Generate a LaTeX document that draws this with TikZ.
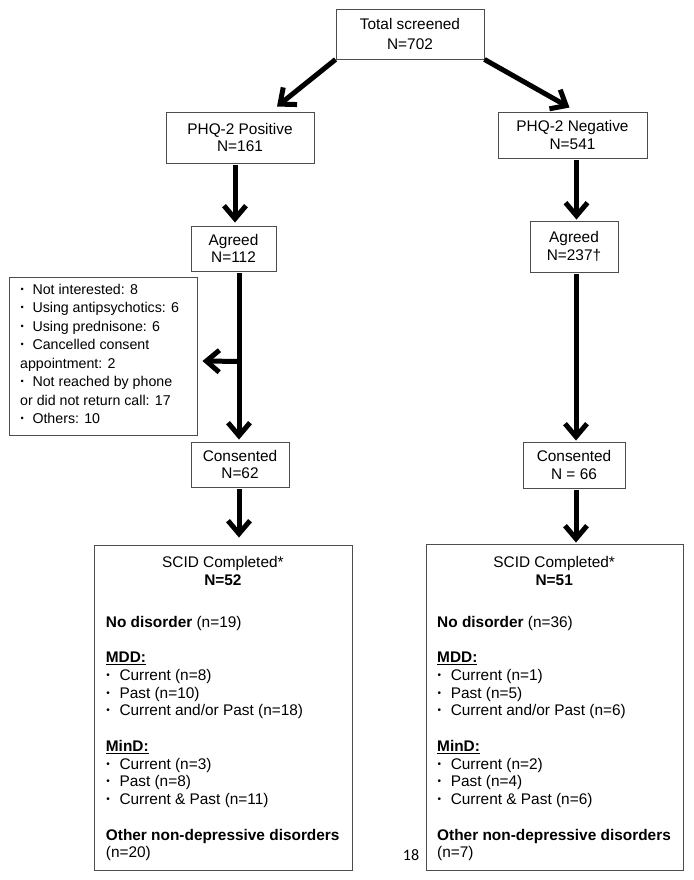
\documentclass[tikz,border=0pt]{standalone}
\usepackage{fontspec}
\usepackage{graphicx}
\setmainfont{Liberation Sans}
\newfontfamily\pagefont{Carlito}
\usetikzlibrary{arrows.meta,calc}
\newcommand{\bl}[1][13.6pt]{\makebox[#1][l]{\hspace{0.5pt}\raisebox{0.12em}{\scalebox{0.65}{•}}}}
\begin{document}
\begin{tikzpicture}[x=1pt,y=-1pt,
  box/.style={draw=black!70, line width=0.9pt, align=center, inner sep=0pt,
    font=\fontsize{15.4}{17.4}\selectfont},
  txt/.style={anchor=north west, inner sep=0pt, align=left,
    font=\fontsize{15.4}{17.75}\selectfont},
  flow/.style={line width=5pt, -{Straight Barb[length=13pt,width=22pt]}},
  plain/.style={line width=5pt}]
\useasboundingbox (0,0) rectangle (693,880);

% boxes
\node[box, minimum width=148pt, minimum height=50pt, font=\fontsize{15.4}{20}\selectfont] (total) at (410,34) {Total screened\\N=702};
\node[box, minimum width=148pt, minimum height=51pt] (pos) at (240,137.5) {PHQ-2 Positive\\N=161};
\node[box, minimum width=149pt, minimum height=46pt] (neg) at (572.5,135) {PHQ-2 Negative\\N=541};
\node[box, minimum width=85pt, minimum height=45pt] (agL) at (233.5,248.5) {Agreed\\N=112};
\node[box, minimum width=88pt, minimum height=51pt] (agR) at (574,246.5) {Agreed\\N=237†};
\node[box, minimum width=188pt, minimum height=158pt] (excl) at (103,356) {};
\node[box, minimum width=98pt, minimum height=45pt] (conL) at (240,464.5) {Consented\\N=62};
\node[box, minimum width=102pt, minimum height=46pt] (conR) at (574,465) {Consented\\N = 66};
\node[box, minimum width=258pt, minimum height=325pt] (scidL) at (223,707.5) {};
\node[box, minimum width=257pt, minimum height=326pt] (scidR) at (554.5,707) {};

% exclusion text
\node[txt, font=\fontsize{14.2}{18.5}\selectfont] (excltext) at (20,283.6) {%
\bl[12.3pt]Not interested: 8\\
\bl[12.3pt]Using antipsychotics: 6\\
\bl[12.3pt]Using prednisone: 6\\
\bl[12.3pt]Cancelled consent\\
appointment: 2\\
\bl[12.3pt]Not reached by phone\\
or did not return call: 17\\
\bl[12.3pt]Others: 10};

% SCID texts
\node[txt] (scidLtext) at (105.7,556) {%
\makebox[234pt]{SCID Completed*}\\
\makebox[234pt]{\bfseries N=52}\\[24.2pt]
\textbf{No disorder} (n=19)\\[17.75pt]
\underline{\textbf{MDD:}}\\
\bl Current (n=8)\\
\bl Past (n=10)\\
\bl Current and/or Past (n=18)\\[17.75pt]
\underline{\textbf{MinD:}}\\
\bl Current (n=3)\\
\bl Past (n=8)\\
\bl Current \& Past (n=11)\\[17.75pt]
\textbf{Other non-depressive disorders}\\
(n=20)};

\node[txt] (scidRtext) at (437,556) {%
\makebox[234pt]{SCID Completed*}\\
\makebox[234pt]{\bfseries N=51}\\[24.2pt]
\textbf{No disorder} (n=36)\\[17.75pt]
\underline{\textbf{MDD:}}\\
\bl Current (n=1)\\
\bl Past (n=5)\\
\bl Current and/or Past (n=6)\\[17.75pt]
\underline{\textbf{MinD:}}\\
\bl Current (n=2)\\
\bl Past (n=4)\\
\bl Current \& Past (n=6)\\[17.75pt]
\textbf{Other non-depressive disorders}\\
(n=7)};

\node[inner sep=0pt, font=\pagefont\fontsize{16}{18}\selectfont] (page) at (411,855) {18};

% connectors
\draw[flow] (total.south west) -- ($(pos.north)+(37,-5)$);
\draw[flow] (total.south east) -- ($(neg.north)+(-3,-4)$);
\draw[flow] ($(pos.south)+(-5,2)$) -- ($(agL.north)+(1.5,-3)$);
\draw[flow] ($(neg.south)+(4,2)$) -- ($(agR.north)+(2.5,-1)$);
\draw[flow] ($(agL.south)+(5.5,2)$) -- ($(conL.north)+(-1,-2)$);
\coordinate (br) at ($(agL.south)+(5.5,90)$);
\draw[flow] (br) -- ($(excl.east)+(5,5)$);
\draw[flow] ($(agR.south)+(2,2)$) -- ($(conR.north)+(2,-1)$);
\draw[flow] ($(conL.south)+(-1,2)$) -- ($(scidL.north)+(16,-7)$);
\draw[flow] ($(conR.south)+(2,2)$) -- ($(scidR.north)+(21.5,-1)$);
\end{tikzpicture}
\end{document}
